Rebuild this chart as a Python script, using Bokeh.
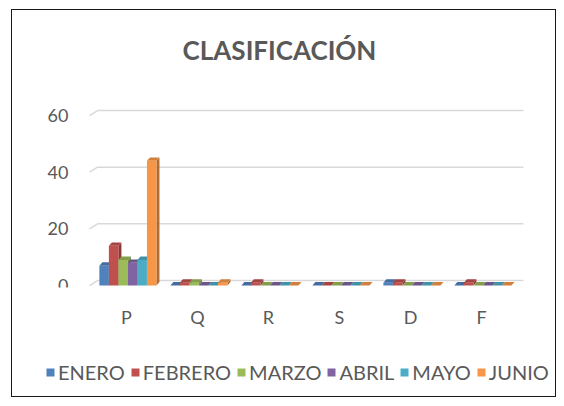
from bokeh.plotting import figure
from bokeh.layouts import column
from bokeh.models import Range1d, FixedTicker, Legend, LegendItem, ColumnDataSource
from bokeh.core.properties import value
from bokeh.embed import file_html
from bokeh.resources import INLINE

title_text = "CLASIFICACIÓN"
categories = ["P", "Q", "R", "S", "D", "F"]
months = ["ENERO", "FEBRERO", "MARZO", "ABRIL", "MAYO", "JUNIO"]
enero = [7, 0, 0, 0, 1, 0]
febrero = [14, 1, 1, 0, 1, 1]
marzo = [9, 1, 0, 0, 0, 0]
abril = [8, 0, 0, 0, 0, 0]
mayo = [9, 0, 0, 0, 0, 0]
junio = [44, 1, 0, 0, 0, 0]
y_ticks = [0, 20, 40, 60]
colors = ["#4F81BD", "#C0504D", "#9BBB59", "#8064A2", "#4BACC6", "#F79646"]
series = [enero, febrero, marzo, abril, mayo, junio]

FONT = "Lato"
TXT = "#595959"


def shade(hexc, f):
    r, g, b = int(hexc[1:3], 16), int(hexc[3:5], 16), int(hexc[5:7], 16)
    return "#%02x%02x%02x" % (int(r * f), int(g * f), int(b * f))


# frame spans px 42..553 (x) and 10..287 (y); category i centred at 126 + 71*i
wall_x = -0.52
p = figure(width=543, height=331, output_backend="svg", toolbar_location=None,
           title_location=None,
           x_range=Range1d(-1.183, 6.014), y_range=Range1d(-0.7, 97.08),
           min_border_left=30, min_border_right=2, min_border_top=0,
           min_border_bottom=54)
p.outline_line_color = None
p.xgrid.visible = False
p.ygrid.visible = False

# chart title
p.text(x=[2.155], y=[83.3], text=[title_text], text_align="center",
       text_baseline="middle", text_font=value(FONT), text_font_style="bold",
       text_font_size="26px", text_color=TXT)

# gridlines on back wall with 3D diagonal
gdx = 8 / 71.0
gdy = 1.76
p.multi_line(xs=[[wall_x, wall_x + gdx, 5.59] for v in y_ticks],
             ys=[[v, v + gdy, v + gdy] for v in y_ticks],
             line_color="#D9D9D9", line_width=1.5)

w = 0.134
dx = 3 / 71.0
dy = 1.2
xs_idx = list(range(len(categories)))
sources = []
for j, (vals, col, name) in enumerate(zip(series, colors, months)):
    off = (j - 2.5) * w + 0.02
    lefts = [i + off - w / 2 for i in xs_idx]
    rights = [i + off + w / 2 for i in xs_idx]
    side_x = [[r, r + dx, r + dx, r] for r in rights]
    side_y = [[0, dy, v + dy, v] for v in vals]
    top_x = [[l, l + dx, r + dx, r] for l, r in zip(lefts, rights)]
    top_y = [[v, v + dy, v + dy, v] for v in vals]
    p.patches(side_x, side_y, fill_color=shade(col, 0.72), line_color=None)
    p.patches(top_x, top_y, fill_color=shade(col, 0.85), line_color=None)
    src = ColumnDataSource(dict(x=[i + off for i in xs_idx], top=vals))
    sources.append(src)
    p.vbar(x="x", top="top", bottom=0, width=w, source=src,
           fill_color=col, line_color=None)

p.xaxis.ticker = FixedTicker(ticks=xs_idx)
p.xaxis.major_label_overrides = {i: c for i, c in enumerate(categories)}
p.yaxis.ticker = FixedTicker(ticks=y_ticks)
p.yaxis.fixed_location = -0.789   # invisible axis line just right of labels
for ax in (p.xaxis[0], p.yaxis[0]):
    ax.axis_line_color = None
    ax.major_tick_line_color = None
    ax.minor_tick_line_color = None
    ax.major_tick_out = 0
    ax.major_tick_in = 0
    ax.minor_tick_out = 0
    ax.minor_tick_in = 0
    ax.major_label_text_font = FONT
    ax.major_label_text_font_size = "18px"
    ax.major_label_text_color = TXT
p.xaxis.major_label_standoff = 18
p.yaxis.major_label_standoff = 2

# legend strip: separate axis-less figure; the series bars there lie outside
# its view range so only the legend shows
lg = figure(width=543, height=55, output_backend="svg", toolbar_location=None,
            x_axis_location=None, y_axis_location=None, title_location=None,
            x_range=Range1d(100, 101), y_range=Range1d(100, 101), min_border=0)
lg.outline_line_color = None
lg.xgrid.visible = False
lg.ygrid.visible = False
items = []
for src, col, name in zip(sources, colors, months):
    r = lg.vbar(x="x", top="top", bottom=0, width=w, source=src,
                fill_color=col, line_color=None)
    items.append(LegendItem(label=name, renderers=[r]))
legend = Legend(items=items, orientation="horizontal", location=(3, 12))
legend.label_text_font = FONT
legend.label_text_font_size = "20px"
legend.label_text_color = TXT
legend.glyph_width = 10
legend.glyph_height = 10
legend.label_standoff = 3
legend.spacing = 5
legend.padding = 0
legend.margin = 0
legend.border_line_color = None
legend.background_fill_alpha = 0
lg.add_layout(legend, "center")

layout = column(p, lg, spacing=0,
                styles={"border": "1px solid #1a1a1a",
                        "margin": "9px 0px 0px 11px"})

open("out.html", "w").write(file_html(layout, INLINE))
